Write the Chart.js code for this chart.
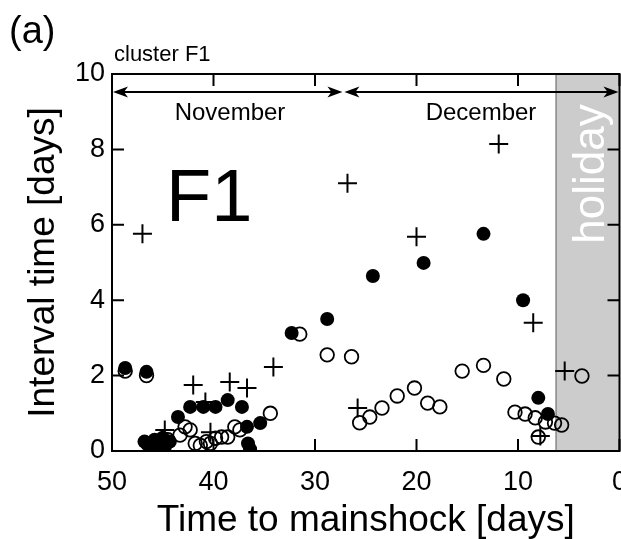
<!DOCTYPE html>
<html>
<head>
<meta charset="utf-8">
<script src="https://cdn.jsdelivr.net/npm/chart.js@4.4.1/dist/chart.umd.min.js"></script>
<style>
  html, body { margin: 0; padding: 0; background: #fff; }
  #wrap { width: 621px; height: 539px; }
</style>
</head>
<body>
<div id="wrap"><canvas id="c" width="621" height="539"></canvas></div>
<script>
// filled circles
const filledX = [48.7, 46.6, 46.8, 46.3, 45.8, 45.3, 44.8, 44.3, 46.0, 45.0, 43.5,
  42.3, 41.0, 39.8, 38.6, 37.2, 36.7, 35.4, 36.6, 36.4,
  32.3, 28.8, 24.3, 19.3, 13.4, 9.5, 8.0, 7.05];
const filledY = [2.2, 2.1, 0.25, 0.15, 0.3, 0.2, 0.1, 0.25, 0.05, 0.35, 0.9,
  1.17, 1.17, 1.17, 1.35, 1.17, 0.64, 0.74, 0.2, 0.05,
  3.13, 3.5, 4.64, 4.99, 5.76, 4.0, 1.41, 0.98];

// open circles
const openX = [48.7, 46.6, 46.5, 45.5, 44.5, 43.3, 42.8, 42.3, 41.8, 41.3, 40.7, 40.3,
  39.8, 39.2, 38.6, 37.9, 37.4, 34.4,
  31.5, 28.8, 26.4, 25.6, 24.6, 23.4, 21.9, 20.2, 18.9, 17.7, 15.5, 13.4, 11.4,
  10.3, 9.3, 8.3, 7.3, 6.4, 5.7, 8.0, 3.7];
const openY = [2.12, 2.0, 0.2, 0.15, 0.3, 0.42, 0.64, 0.56, 0.2, 0.15, 0.25, 0.2,
  0.34, 0.37, 0.37, 0.64, 0.56, 1.0,
  3.1, 2.55, 2.5, 0.75, 0.9, 1.14, 1.46, 1.67, 1.27, 1.17, 2.12, 2.27, 1.91,
  1.03, 0.98, 0.88, 0.77, 0.74, 0.69, 0.37, 1.99];

// plus markers
const plusX = [47.0, 26.8, 20.0, 11.9, 8.5, 5.4, 7.8, 25.8, 34.1, 42.0, 38.4, 36.7,
  44.8, 40.3, 40.8, 45.2];
const plusY = [5.76, 7.1, 5.68, 8.14, 3.4, 2.12, 0.4, 1.14, 2.23, 1.75, 1.83, 1.67,
  0.56, 0.5, 1.3, 0.05];

const xTicks = [50, 40, 30, 20, 10, 0];
const yTicks = [0, 2, 4, 6, 8, 10];

const holidayFrom = 6.3;
const monthSplit = 27.2;
const arrowLevel = 9.52;

const FONT = "'Liberation Sans', Arial, sans-serif";

function pts(xs, ys) {
  return xs.map((x, i) => ({ x: x, y: ys[i] }));
}

function arrowHead(ctx, x, y, dir) {
  // dir = -1 points left, +1 points right
  ctx.beginPath();
  ctx.moveTo(x, y);
  ctx.lineTo(x - dir * 15, y - 5.5);
  ctx.lineTo(x - dir * 11, y);
  ctx.lineTo(x - dir * 15, y + 5.5);
  ctx.closePath();
  ctx.fill();
}

const decor = {
  id: "decor",
  beforeDatasetsDraw(chart) {
    const { ctx, chartArea: a, scales: { x, y } } = chart;
    const gx = x.getPixelForValue(holidayFrom);
    ctx.save();
    ctx.fillStyle = "#cccccc";
    ctx.fillRect(gx, a.top, a.right - gx, a.bottom - a.top);
    ctx.strokeStyle = "#666";
    ctx.lineWidth = 1;
    ctx.beginPath();
    ctx.moveTo(gx + 0.5, a.top);
    ctx.lineTo(gx + 0.5, a.bottom);
    ctx.stroke();

    ctx.translate((gx + a.right) / 2 + 4, 174);
    ctx.rotate(-Math.PI / 2);
    ctx.fillStyle = "#fff";
    ctx.font = "44px " + FONT;
    ctx.textAlign = "center";
    ctx.textBaseline = "middle";
    ctx.fillText("holiday", 0, 0);
    ctx.restore();
  },
  afterDraw(chart) {
    const { ctx, chartArea: a, scales: { x, y } } = chart;
    ctx.save();
    ctx.strokeStyle = "#000";
    ctx.fillStyle = "#000";
    ctx.lineWidth = 2;

    // inward ticks on all four sides
    ctx.beginPath();
    xTicks.forEach(v => {
      const px = x.getPixelForValue(v);
      ctx.moveTo(px, a.bottom); ctx.lineTo(px, a.bottom - 12);
      ctx.moveTo(px, a.top); ctx.lineTo(px, a.top + 12);
    });
    yTicks.forEach(v => {
      const py = y.getPixelForValue(v);
      ctx.moveTo(a.left, py); ctx.lineTo(a.left + 12, py);
      ctx.moveTo(a.right, py); ctx.lineTo(a.right - 12, py);
    });
    ctx.stroke();

    // frame
    ctx.strokeRect(a.left, a.top, a.right - a.left, a.bottom - a.top);

    // month arrows
    const ay = y.getPixelForValue(arrowLevel);
    const x50 = x.getPixelForValue(50);
    const xs = x.getPixelForValue(monthSplit);
    const x0 = x.getPixelForValue(0);
    ctx.beginPath();
    ctx.moveTo(x50 + 4, ay); ctx.lineTo(xs - 4, ay);
    ctx.moveTo(xs + 4, ay); ctx.lineTo(x0 - 4, ay);
    ctx.stroke();
    arrowHead(ctx, x50 + 1, ay, -1);
    arrowHead(ctx, xs - 1, ay, 1);
    arrowHead(ctx, xs + 1, ay, -1);
    arrowHead(ctx, x0 - 1, ay, 1);

    ctx.textBaseline = "alphabetic";
    ctx.textAlign = "center";
    ctx.font = "24px " + FONT;
    ctx.fillText("November", 230, 120);
    ctx.fillText("December", 481, 120);

    ctx.textAlign = "left";
    ctx.font = "74px " + FONT;
    ctx.fillText("F1", 166, 221);

    ctx.font = "22px " + FONT;
    ctx.fillText("cluster F1", 114, 61);

    ctx.font = "38px " + FONT;
    ctx.fillText("(a)", 9, 43);
    ctx.restore();
  }
};

new Chart(document.getElementById("c"), {
  type: "scatter",
  data: {
    datasets: [
      {
        label: "plus",
        data: pts(plusX, plusY),
        pointStyle: "cross",
        pointRadius: 9.5,
        borderWidth: 2,
        borderColor: "#000",
        backgroundColor: "#000",
        order: 0
      },
      {
        label: "filled",
        data: pts(filledX, filledY),
        pointStyle: "circle",
        pointRadius: 7,
        borderWidth: 0,
        backgroundColor: "#000",
        order: 1
      },
      {
        label: "open",
        data: pts(openX, openY),
        pointStyle: "circle",
        pointRadius: 6.8,
        borderWidth: 1.8,
        borderColor: "#000",
        backgroundColor: "rgba(0,0,0,0)",
        order: 2
      }
    ]
  },
  options: {
    responsive: false,
    animation: false,
    events: [],
    layout: { autoPadding: false, padding: { left: 0, right: 1.5, top: 74, bottom: 0 } },
    plugins: { legend: { display: false }, tooltip: { enabled: false } },
    scales: {
      x: {
        type: "linear",
        reverse: true,
        min: 0,
        max: 50,
        afterBuildTicks: s => { s.ticks = xTicks.map(v => ({ value: v })); },
        afterFit: s => { s.height = 88; s.paddingLeft = 0; s.paddingRight = 0; },
        grid: { display: false, drawTicks: false },
        border: { display: false },
        ticks: { color: "#000", padding: 15, maxRotation: 0, font: { family: FONT, size: 27 } },
        title: {
          display: true,
          text: "Time to mainshock [days]",
          color: "#000",
          font: { family: FONT, size: 37, lineHeight: 1.0 },
          padding: { top: 0, bottom: 0 }
        }
      },
      y: {
        type: "linear",
        min: 0,
        max: 10,
        afterBuildTicks: s => { s.ticks = yTicks.map(v => ({ value: v })); },
        afterFit: s => { s.width = 112; s.paddingTop = 0; s.paddingBottom = 0; },
        grid: { display: false, drawTicks: false },
        border: { display: false },
        ticks: { color: "#000", padding: 7, font: { family: FONT, size: 27 } },
        title: {
          display: true,
          text: "Interval time [days]",
          color: "#000",
          font: { family: FONT, size: 37, lineHeight: 1.0 },
          padding: { top: 25, bottom: 0 }
        }
      }
    }
  },
  plugins: [decor]
});
</script>
</body>
</html>
